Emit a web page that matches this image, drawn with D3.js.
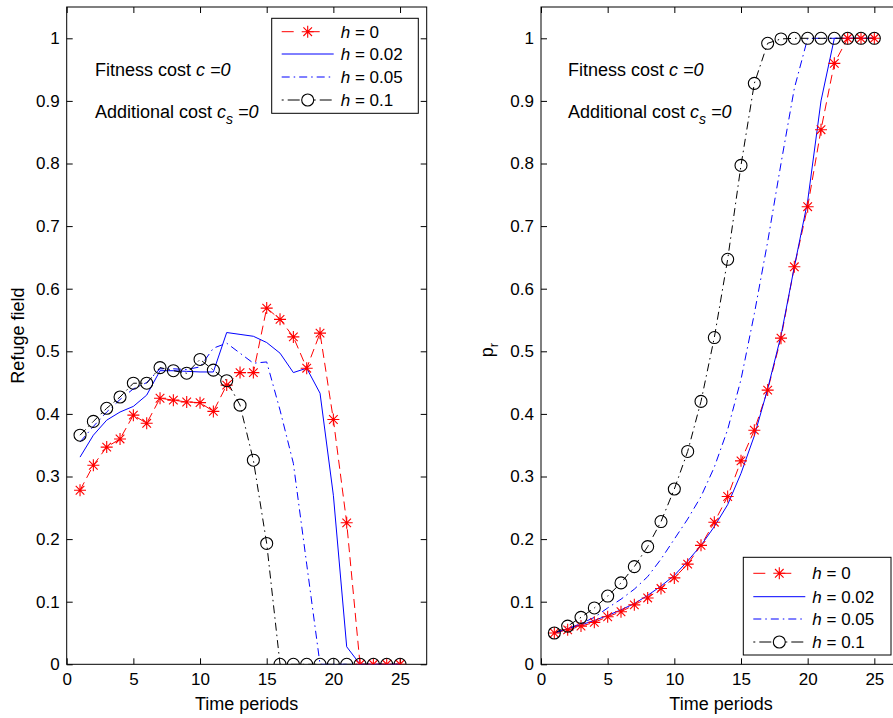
<!DOCTYPE html>
<html>
<head>
<meta charset="utf-8">
<script src="https://cdn.jsdelivr.net/npm/d3@7"></script>
<style>
  html, body { margin: 0; padding: 0; background: #fff; }
  svg { display: block; font-family: "Liberation Sans", Arial, Helvetica, sans-serif; }
</style>
</head>
<body>
<svg id="chart" width="893" height="718"></svg>
<script>
// ---------------- DATA ----------------
const periods = [1,2,3,4,5,6,7,8,9,10,11,12,13,14,15,16,17,18,19,20,21,22,23,24,25];

// Left panel: Refuge field
const refugeH0   = [0.278,0.318,0.347,0.360,0.398,0.385,0.425,0.422,0.419,0.418,0.404,0.446,0.466,0.466,0.569,0.551,0.523,0.473,0.529,0.391,0.226,0,0,0,0];
const refugeH002 = [0.331,0.366,0.390,0.403,0.412,0.430,0.469,0.469,0.468,0.467,0.467,0.530,0.527,0.524,0.514,0.497,0.466,0.473,0.433,0.270,0.028,0,0,0,0];
const refugeH005 = [0.355,0.380,0.403,0.423,0.440,0.450,0.472,0.472,0.471,0.475,0.505,0.513,0.497,0.481,0.483,0.406,0.321,0.160,0,0,0,0,0,0,0];
const refugeH01  = [0.366,0.388,0.409,0.427,0.449,0.449,0.474,0.469,0.465,0.487,0.470,0.453,0.414,0.326,0.193,0,0,0,0,0,0,0,0,0,0];

// Right panel: p_r
const prH0   = [0.050,0.055,0.061,0.067,0.076,0.084,0.095,0.106,0.121,0.138,0.160,0.190,0.227,0.268,0.325,0.374,0.438,0.521,0.635,0.731,0.854,0.960,1,1,1];
const prH002 = [0.050,0.057,0.063,0.070,0.078,0.087,0.097,0.110,0.125,0.142,0.165,0.190,0.220,0.255,0.305,0.365,0.440,0.525,0.635,0.740,0.900,1,1,1,1];
const prH005 = [0.050,0.057,0.065,0.075,0.090,0.104,0.120,0.140,0.168,0.200,0.232,0.268,0.315,0.375,0.455,0.560,0.675,0.800,0.920,1,1,1,1,1,1];
const prH01  = [0.050,0.061,0.075,0.090,0.109,0.130,0.156,0.188,0.228,0.280,0.340,0.420,0.522,0.647,0.797,0.928,0.992,0.999,1,1,1,1,1,1,1];

const seriesLabels = ["0", "0.02", "0.05", "0.1"];
const xTicks = [0,5,10,15,20,25];
const yTicks = [0,0.1,0.2,0.3,0.4,0.5,0.6,0.7,0.8,0.9,1];
const xLabel = "Time periods";
const leftYLabel = "Refuge field";

// ---------------- STYLES ----------------
const styles = [
  { color: "#ff0000", dash: "9,5",        marker: "star" },
  { color: "#0000ff", dash: null,         marker: null },
  { color: "#0000ff", dash: "8,4,1.5,4",  marker: null },
  { color: "#000000", dash: "8,4,1.5,4",  marker: "circle" }
];

const svg = d3.select("#chart");
const FONT_TICK = 17, FONT_TEXT = 18, FONT_LEG = 17;

function starPath(cx, cy) {
  const a = 6, b = 4.3;
  return `M${cx-a},${cy}L${cx+a},${cy}M${cx},${cy-a}L${cx},${cy+a}` +
         `M${cx-b},${cy-b}L${cx+b},${cy+b}M${cx-b},${cy+b}L${cx+b},${cy-b}`;
}

function drawMarker(g, type, cx, cy, color) {
  if (type === "star") {
    g.append("path").attr("d", starPath(cx, cy))
      .attr("stroke", color).attr("stroke-width", 1.1).attr("fill", "none");
  } else if (type === "circle") {
    g.append("circle").attr("cx", cx).attr("cy", cy).attr("r", 6)
      .attr("stroke", color).attr("stroke-width", 1.1).attr("fill", "none");
  }
}

function panel(opts) {
  const { x0, x1, y0, y1, data, id } = opts;
  const x = d3.scaleLinear().domain([0, 27]).range([x0, x1]);
  const y = d3.scaleLinear().domain([0, 1.05]).range([y0, y1]);
  const g = svg.append("g");

  g.append("clipPath").attr("id", "clip" + id)
    .append("rect").attr("x", x0).attr("y", y1).attr("width", x1 - x0).attr("height", y0 - y1);

  const ax = g.append("g").attr("transform", `translate(0,${y0})`)
    .call(d3.axisBottom(x).tickValues(xTicks).tickSize(-6).tickPadding(9).tickFormat(d3.format("d")));
  const axT = g.append("g").attr("transform", `translate(0,${y1})`)
    .call(d3.axisTop(x).tickValues(xTicks).tickSize(-6).tickFormat(""));
  const ay = g.append("g").attr("transform", `translate(${x0},0)`)
    .call(d3.axisLeft(y).tickValues(yTicks).tickSize(-6).tickPadding(7).tickFormat(d => d === 0 ? "0" : (d === 1 ? "1" : d3.format(".1f")(d))));
  const ayR = g.append("g").attr("transform", `translate(${x1},0)`)
    .call(d3.axisRight(y).tickValues(yTicks).tickSize(-6).tickFormat(""));
  [ax, axT, ay, ayR].forEach(a => {
    a.select(".domain").remove();
    a.selectAll("line").attr("stroke", "#000").attr("stroke-width", 1);
    a.selectAll("text").attr("font-size", FONT_TICK).attr("fill", "#000")
      .attr("font-family", '"Liberation Sans", Arial, sans-serif');
  });

  g.append("rect").attr("x", x0).attr("y", y1).attr("width", x1 - x0).attr("height", y0 - y1)
    .attr("fill", "none").attr("stroke", "#000").attr("stroke-width", 1);

  const plot = g.append("g").attr("clip-path", `url(#clip${id})`);
  const line = d3.line().x((d, i) => x(periods[i])).y(d => y(d));
  data.forEach((vals, k) => {
    const st = styles[k];
    plot.append("path").datum(vals).attr("d", line)
      .attr("fill", "none").attr("stroke", st.color).attr("stroke-width", 1)
      .attr("stroke-dasharray", st.dash);
  });
  data.forEach((vals, k) => {
    const st = styles[k];
    if (!st.marker) return;
    vals.forEach((v, i) => drawMarker(plot, st.marker, x(periods[i]), y(v), st.color));
  });

  g.append("text").attr("x", (x0 + x1) / 2).attr("y", 710).attr("text-anchor", "middle")
    .attr("font-size", FONT_TEXT).text(xLabel);

  return { x, y, g };
}

function annotations(g, tx) {
  const t1 = g.append("text").attr("x", tx).attr("y", 76).attr("font-size", FONT_TEXT);
  t1.append("tspan").text("Fitness cost ");
  t1.append("tspan").attr("font-style", "italic").text("c =0");
  const t2 = g.append("text").attr("x", tx).attr("y", 118).attr("font-size", FONT_TEXT);
  t2.append("tspan").text("Additional cost ");
  t2.append("tspan").attr("font-style", "italic").text("c");
  t2.append("tspan").attr("font-style", "italic").attr("dy", 6).attr("font-size", 14).text("s");
  t2.append("tspan").attr("font-style", "italic").attr("dy", -6).text(" =0");
}

function legend(g, bx, by, bw, bh, rowYs) {
  g.append("rect").attr("x", bx).attr("y", by).attr("width", bw).attr("height", bh)
    .attr("fill", "#fff").attr("stroke", "#000").attr("stroke-width", 1);
  const lx0 = bx + 10, lx1 = bx + 62;
  rowYs.forEach((ry, k) => {
    const st = styles[k];
    g.append("line").attr("x1", lx0).attr("x2", lx1).attr("y1", ry).attr("y2", ry)
      .attr("stroke", st.color).attr("stroke-width", 1)
      .attr("stroke-dasharray", k === 0 ? "12,14" : (k === 3 ? "2,4,12,14" : st.dash));
    if (st.marker) drawMarker(g, st.marker, (lx0 + lx1) / 2, ry, st.color);
    const t = g.append("text").attr("x", lx1 + 7).attr("y", ry + 6).attr("font-size", FONT_LEG);
    t.append("tspan").attr("font-style", "italic").text("h");
    t.append("tspan").text(" = " + seriesLabels[k]);
  });
}

const L = panel({ x0: 66.7, x1: 426.7, y0: 664.3, y1: 7, id: "L",
  data: [refugeH0, refugeH002, refugeH005, refugeH01] });
annotations(L.g, 95);
legend(L.g, 271.7, 18.3, 146.6, 95, [31.7, 54, 77, 100]);
L.g.append("text").attr("transform", "translate(24,335.6) rotate(-90)")
  .attr("text-anchor", "middle").attr("font-size", FONT_TEXT).text(leftYLabel);

const R = panel({ x0: 541, x1: 901, y0: 664.3, y1: 7, id: "R",
  data: [prH0, prH002, prH005, prH01] });
annotations(R.g, 568);
legend(R.g, 743.3, 557.3, 147.7, 97.7, [573.3, 596.7, 619, 642]);
const pr = R.g.append("text").attr("transform", "translate(493,350) rotate(-90)")
  .attr("text-anchor", "middle").attr("font-size", FONT_TEXT);
pr.append("tspan").text("p");
pr.append("tspan").attr("dy", 5).attr("font-size", 13).text("r");
</script>
</body>
</html>
